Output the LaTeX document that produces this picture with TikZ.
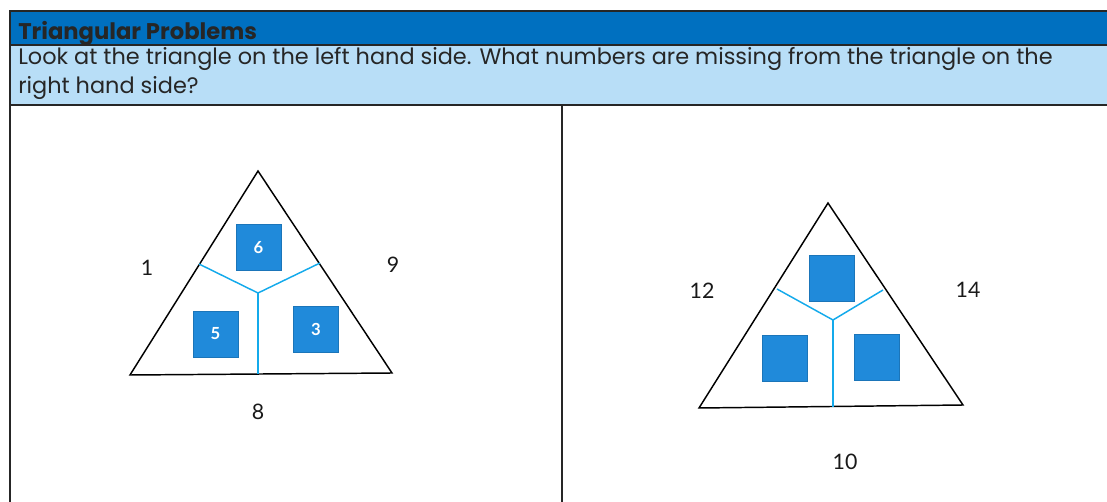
\documentclass[tikz,border=0pt]{standalone}
\usepackage{fontspec}
\setmainfont{Poppins}
\newfontfamily\numfont{Lato}
\usetikzlibrary{positioning, calc}
\definecolor{barblue}{RGB}{0, 112, 192}
\definecolor{rowblue}{RGB}{184, 222, 247}
\definecolor{boxblue}{RGB}{32, 138, 218}
\definecolor{splitblue}{RGB}{20, 170, 235}

\begin{document}
\begin{tikzpicture}[
  x=0.75pt, y=-0.75pt,
  frame/.style={draw=black!85, line width=1.2pt},
  tri/.style={draw=black, line width=1.1pt, line join=miter},
  split/.style={draw=splitblue, line width=1.1pt},
  numbox/.style={rectangle, fill=boxblue, draw=boxblue!85!black, line width=0.4pt,
              minimum width=33.5pt, minimum height=34.5pt, inner sep=0pt,
              text=white, font=\numfont\bfseries\fontsize{12.5}{14}\selectfont},
  sidenum/.style={font=\numfont\fontsize{16}{18}\selectfont, text=black!90},
  headtext/.style={anchor=base west, inner sep=0pt, text=black!85},
]
  \useasboundingbox (0,0) rectangle (1107,502);

  % header rows
  \fill[barblue] (10,11) rectangle (1107,45);
  \fill[rowblue] (10,45) rectangle (1107,105);
  \draw[frame] (10,502) -- (10,11) -- (1107,11);
  \draw[frame] (10,45) -- (1107,45);
  \draw[frame] (10,105) -- (1107,105);
  \draw[frame] (562,105) -- (562,502);

  \node[headtext, font=\bfseries\fontsize{17}{20}\selectfont]
    (title) at (18,40) {Triangular Problems};
  \node[headtext, font=\fontsize{16.8}{20}\selectfont]
    (ask1) at (18,65) {Look at the triangle on the left hand side. What numbers are missing from the triangle on the};
  \node[headtext, font=\fontsize{16.8}{20}\selectfont]
    (ask2) at (18,94) {right hand side?};

  % left triangle
  \coordinate (la) at (258,171);
  \coordinate (lb) at (130,375);
  \coordinate (lc) at (392,373);
  \coordinate (lm) at (258,293);
  \draw[tri] (lb) -- (la) -- (lc) -- cycle;
  \draw[split] (199,264) -- (lm) -- (320,263);
  \draw[split] (lm) -- (258,374);
  \node[numbox] (ltop) at (258.5,247.5) {6};
  \node[numbox] (lleft) at (215.5,334) {5};
  \node[numbox] (lright) at (316,329.5) {3};
  \node[sidenum] (lone) at (147,268) {1};
  \node[sidenum] (lnine) at (393,265) {9};
  \node[sidenum] (leight) at (258,412) {8};

  % right triangle
  \coordinate (ra) at (828,203);
  \coordinate (rb) at (699,408);
  \coordinate (rc) at (963,405);
  \coordinate (rm) at (833,320);
  \draw[tri] (rb) -- (ra) -- (rc) -- cycle;
  \draw[split] (777,289) -- (rm) -- (883,290);
  \draw[split] (rm) -- (833,407);
  \node[numbox] (rtop) at (831.5,278.5) {};
  \node[numbox] (rleft) at (784.5,358) {};
  \node[numbox] (rright) at (876.5,357) {};
  \node[sidenum] (rtwelve) at (702,291) {12};
  \node[sidenum] (rfourteen) at (968,290) {14};
  \node[sidenum] (rten) at (845,462) {10};
\end{tikzpicture}
\end{document}
